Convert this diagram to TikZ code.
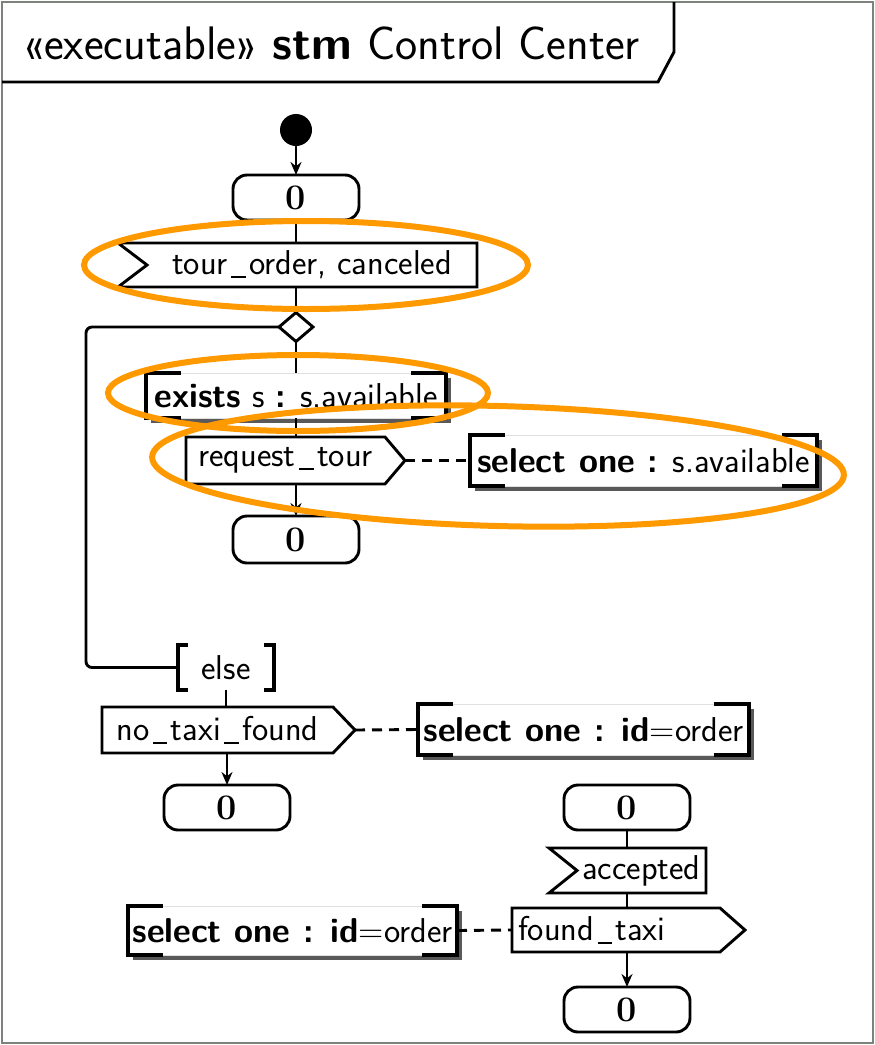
\documentclass[tikz,border=0pt]{standalone}
\usetikzlibrary{arrows.meta,shapes.geometric,shadows,calc}
\definecolor{hl}{RGB}{255,153,0}
\definecolor{framegray}{RGB}{125,130,125}
\newcommand\us{\kern0.1em\rule[-0.09em]{0.42em}{0.045em}\kern0.1em}
\tikzset{
 every node/.style={outer sep=0pt},
 ln/.style={line width=2.9pt},
 stbox/.style={draw, ln, rounded corners=14pt, minimum width=126pt, minimum height=45pt, inner sep=0pt, font=\rmfamily\bfseries\fontsize{36}{40}\selectfont},
 txt/.style={font=\sffamily\fontsize{34.5}{40}\selectfont, inner sep=0pt},
 sig/.style={txt},
 shp/.style={ln, line join=miter},
 selbox/.style={txt, fill=white, draw=black!12, line width=1pt, inner xsep=4pt, drop shadow={shadow xshift=5pt, shadow yshift=-5pt, fill=black!65, opacity=1}},
 brk/.style={line width=3.2pt, line cap=butt},
 dsh/.style={ln, dash pattern=on 10pt off 7pt},
 arr/.style={ln, -{Stealth[length=13pt,width=11pt]}},
 hlring/.style={draw=hl, line width=6pt},
}
\newcommand\brackets[2]{%
 \draw[brk] ([xshift=#2]#1.north west) -- (#1.north west) -- (#1.south west) -- ([xshift=#2]#1.south west);
 \draw[brk] ([xshift=-#2]#1.north east) -- (#1.north east) -- (#1.south east) -- ([xshift=-#2]#1.south east);}
\newcommand\sendshape[2]{\draw[shp] (#1.north west) -- (#1.north east) -- ([xshift=#2]#1.east) -- (#1.south east) -- (#1.south west) -- cycle;}
\newcommand\recvshape[2]{\draw[shp] ([xshift=-#2]#1.north west) -- (#1.north east) -- (#1.south east) -- ([xshift=-#2]#1.south west) -- (#1.west) -- cycle;}
\begin{document}
\begin{tikzpicture}[x=1pt,y=-1pt]
\useasboundingbox (0,0) rectangle (875,1045);
\fill[white] (0,0) rectangle (875,1045);
% frame
\draw[framegray, line width=2pt] (2,2) rectangle (873,1043);
\draw[ln, line width=2.9pt] (2,82) -- (658,82) -- (674,52) -- (674,2);
\node[anchor=west, inner sep=0pt, font=\sffamily\fontsize{47}{52}\selectfont] (title) at (22,43) {«executable»\ \textbf{stm} Control Center};
% top flow
\node[circle, fill=black, minimum size=32pt, inner sep=0pt] (init) at (296,130) {};
\node[stbox] (s1) at (296,197.5) {0};
\node[sig, minimum width=330pt, minimum height=44pt] (tour) at (312,265) {tour\us order, canceled};
\recvshape{tour}{29}
\node[diamond, draw, ln, fill=white, minimum width=34pt, minimum height=29pt, inner sep=0pt] (dia) at (296,327) {};
\node[selbox, minimum width=300pt, minimum height=45pt] (ex) at (296,395.5) {\textbf{exists} s \textbf{:} s.available};
\brackets{ex}{35}
\node[sig, minimum width=199pt, minimum height=47pt] (req) at (285.5,460.5) {request\us tour};
\sendshape{req}{20}
\node[selbox, minimum width=347pt, minimum height=51pt] (sel1) at (643.5,460.5) {\textbf{select one :} s.available};
\brackets{sel1}{35}
\node[stbox, minimum height=47pt] (s2) at (296,539.5) {0};
% else branch
\coordinate (loopx) at (86,0);
\node[txt, minimum width=96pt, minimum height=45pt] (else) at (226,667.5) {else};
\brackets{else}{10}
\node[sig, minimum width=231pt, minimum height=46pt] (nt) at (217.5,730) {no\us taxi\us found};
\sendshape{nt}{22}
\node[selbox, minimum width=331pt, minimum height=51pt] (sel2) at (583.5,729.5) {\textbf{select one : id}=order};
\brackets{sel2}{35}
\node[stbox] (s3) at (227,807.5) {0};
% right flow
\node[stbox] (s4) at (627,807.5) {0};
\node[sig, minimum width=129pt, minimum height=45pt] (acc) at (641.5,870.5) {accepted};
\recvshape{acc}{28}
\node[sig, text width=196pt, inner xsep=6pt, align=left, minimum height=44pt] (ft) at (616,930) {found\us taxi};
\sendshape{ft}{25}
\node[selbox, minimum width=329pt, minimum height=49pt] (sel3) at (292.5,930.5) {\textbf{select one : id}=order};
\brackets{sel3}{35}
\node[stbox] (s5) at (627,1009.5) {0};
% connectors
\draw[arr] (init) -- (s1);
\draw[ln] (s1.south) -- (s1.south |- tour.north);
\draw[ln] (s1.south |- tour.south) -- (dia.north);
\draw[ln] (dia.south) -- (ex.north);
\draw[ln] (ex.south) -- (ex.south |- req.north);
\draw[arr] (s2.north |- req.south) -- (s2.north);
\draw[dsh] ([xshift=20pt]req.east) -- (sel1.west);
\draw[ln, rounded corners=6pt] (dia.west) -- (dia.west -| loopx) -- (else.west -| loopx) -- (else.west);
\draw[ln] (else.south) -- (else.south |- nt.north);
\draw[arr] (s3.north |- nt.south) -- (s3.north);
\draw[dsh] ([xshift=22pt]nt.east) -- (sel2.west);
\draw[ln] (s4.south) -- (s4.south |- acc.north);
\draw[ln] (s4.south |- acc.south) -- (s4.south |- ft.north);
\draw[arr] (s5.north |- ft.south) -- (s5.north);
\draw[dsh] (sel3.east) -- (ft.west);
% highlight rings
\draw[hlring] (306,265) ellipse [x radius=222, y radius=44];
\draw[hlring] (298,393) ellipse [x radius=190, y radius=38];
\draw[hlring, rotate around={-1.5:(498,466)}] (498,466) ellipse [x radius=346, y radius=60];
\end{tikzpicture}
\end{document}
